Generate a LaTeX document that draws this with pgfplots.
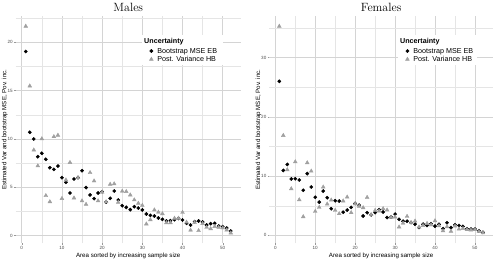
\documentclass[border=0pt]{standalone}
\usepackage{fontspec}
\usepackage{pgfplots}
\pgfplotsset{compat=1.18}
\newfontfamily\sans{Liberation Sans}
\newcommand\tickfont{\sans\fontsize{4.6}{5}\selectfont}
\newcommand\labfont{\sans\fontsize{6.2}{7}\selectfont}
\newcommand\legfont{\sans\fontsize{7.2}{8}\selectfont}
\newcommand\titfont{\rmfamily\fontsize{12}{14}\selectfont}

\pgfplotstableread{
x eb hb
1 19.05 21.66
2 10.69 15.48
3 10.0 8.86
4 8.17 7.22
5 8.52 10.02
6 7.9 4.14
7 7.03 3.51
8 6.86 10.24
9 7.2 10.39
10 6.0 3.84
11 5.52 5.76
12 4.41 7.57
13 5.86 3.9
14 6.0 6.0
15 6.72 3.6
16 4.97 3.24
17 4.21 6.52
18 3.83 5.66
19 4.41 3.6
20 4.55 4.5
21 3.48 3.5
22 3.86 5.31
23 4.62 5.36
24 3.69 3.45
25 3.1 4.6
26 2.93 4.56
27 2.69 4.21
28 3.0 3.7
29 2.86 3.35
30 2.66 3.13
31 2.24 1.21
32 2.1 1.65
33 2.03 2.66
34 1.83 2.43
35 1.69 2.27
36 1.52 1.34
37 1.55 1.34
38 1.66 1.8
39 1.79 1.8
40 1.62 2.41
41 1.28 1.4
42 1.1 0.57
43 1.45 1.35
44 1.52 0.52
45 1.41 1.25
46 1.1 0.86
47 1.24 0.72
48 1.28 0.95
49 1.0 0.85
50 0.93 0.8
51 0.79 0.59
52 0.48 0.28
}\males

\pgfplotstableread{
x eb hb
1 26.0 35.3
2 10.96 16.86
3 11.97 11.07
4 9.52 7.86
5 9.55 12.41
6 9.35 6.0
7 7.6 3.14
8 10.42 12.25
9 8.15 10.84
10 6.42 4.04
11 5.6 4.72
12 7.47 8.15
13 6.35 5.28
14 4.49 5.95
15 5.84 4.21
16 5.79 3.65
17 3.9 5.8
18 4.27 6.46
19 4.72 3.82
20 5.39 5.3
21 5.1 4.9
22 3.26 4.66
23 3.82 6.4
24 3.46 3.5
25 3.82 4.2
26 4.33 4.1
27 3.93 4.5
28 3.0 4.27
29 3.1 3.05
30 3.58 3.1
31 2.7 1.4
32 2.38 2.05
33 2.38 3.2
34 2.16 2.15
35 1.88 2.4
36 1.32 1.4
37 1.88 1.65
38 1.66 2.0
39 1.95 1.75
40 1.55 2.45
41 1.85 1.6
42 1.12 0.77
43 2.13 1.45
44 1.29 0.67
45 1.77 1.55
46 1.65 1.05
47 1.5 1.15
48 1.1 0.95
49 1.06 0.9
50 1.06 0.95
51 0.75 0.62
52 0.5 0.42
}\females

\definecolor{hbgray}{HTML}{A0A0A0}

\pgfplotsset{
  myax/.style={
    scale only axis, anchor=south west,
    xmin=-1.55, xmax=54.55,
    xtick={0,10,...,50}, minor xtick={5,15,...,55},
    grid=both,
    major grid style={draw=black!17, line width=0.5bp},
    minor grid style={draw=black!10, line width=0.35bp},
    axis line style={draw=none},
    tick align=outside, major tick length=1.6bp, minor tick length=0bp,
    tick style={black!40, line width=0.4bp},
    xtick pos=bottom, ytick pos=left,
    ticklabel style={font=\tickfont, text=black!70},
    /pgf/number format/assume math mode=true,
    xticklabel style={inner sep=1pt},
    yticklabel style={inner sep=1pt},
    xlabel={Area sorted by increasing sample size},
    ylabel={Estimated Var and bootstrap MSE, Pov. inc.},
    label style={font=\labfont},
    xlabel style={at={(axis description cs:0.5,-0.0638)}, anchor=base},
    ylabel style={at={(axis description cs:-0.040,0.5)}, anchor=base},
    every axis title/.style={font=\titfont, at={(axis description cs:0.5,1)}, anchor=base, yshift=4.6bp},
    legend style={draw=none, fill=none, inner sep=0pt, outer sep=0pt,
      row sep=1.3bp, column sep=4bp, font=\legfont,
      nodes={inner sep=0pt, text height=6bp, text depth=1bp}},
    legend cell align=left,
    legend image code/.code={\draw[##1] plot coordinates {(0bp,0bp)};},
  },
  ebst/.style={only marks, mark=*, mark size=1.65bp, draw=black, fill=black},
  hbst/.style={only marks, mark=triangle*, mark size=2.2bp, draw=hbgray, fill=hbgray},
}

\begin{document}
\begin{tikzpicture}[x=1bp,y=1bp]
\path[use as bounding box] (0,0) rectangle (494,259);

\begin{axis}[myax, at={(15.5bp,15.7bp)}, width=225.5bp, height=227.4bp,
  ymin=-0.79, ymax=22.73, ytick={0,5,...,20}, minor ytick={2.5,7.5,...,22.5},
  title={Males},
  legend style={at={(rel axis cs:0.594,0.861)}, anchor=north west}]
\addplot[ebst] table[x=x,y=eb] {\males};
\addplot[hbst] table[x=x,y=hb] {\males};
\fill[white] (rel axis cs:0.560,0.916) rectangle (rel axis cs:0.919,0.784);
\node[anchor=west, inner sep=0pt, font=\legfont\bfseries] at (rel axis cs:0.570,0.885) {Uncertainty};
\legend{Bootstrap MSE EB, Post. Variance HB}
\end{axis}

\begin{axis}[myax, at={(269.1bp,15.7bp)}, width=224bp, height=227.4bp,
  ymin=-1.35, ymax=37.05, ytick={0,10,...,30}, minor ytick={5,15,...,35},
  title={Females},
  legend style={at={(rel axis cs:0.609,0.861)}, anchor=north west}]
\addplot[ebst] table[x=x,y=eb] {\females};
\addplot[hbst] table[x=x,y=hb] {\females};
\fill[white] (rel axis cs:0.575,0.916) rectangle (rel axis cs:0.928,0.784);
\node[anchor=west, inner sep=0pt, font=\legfont\bfseries] at (rel axis cs:0.584,0.885) {Uncertainty};
\legend{Bootstrap MSE EB, Post. Variance HB}
\end{axis}
\end{tikzpicture}
\end{document}
